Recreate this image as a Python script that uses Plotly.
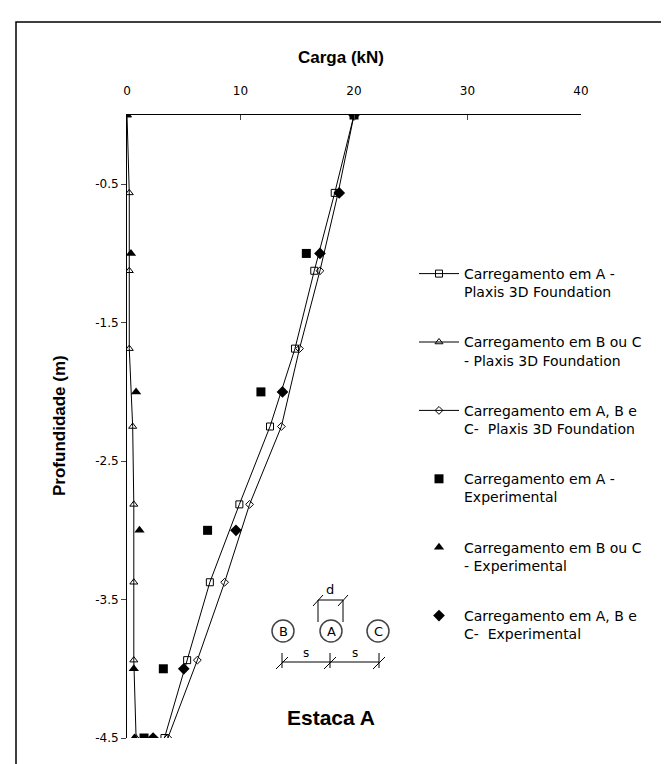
import plotly.graph_objects as go

# Profundidade (m) dos pontos Plaxis e experimentais
prof_plaxis = [0, -0.5625, -1.125, -1.6875, -2.25, -2.8125, -3.375, -3.9375, -4.5]
prof_exp = [0, -1, -2, -3, -4, -4.5]
prof_exp_abc = [0, -0.5625, -1, -2, -3, -4, -4.5]

# Carga (kN)
plaxis_a = [20.0, 18.3, 16.5, 14.8, 12.6, 9.9, 7.3, 5.3, 3.3]
plaxis_bc = [0.0, 0.2, 0.2, 0.2, 0.5, 0.6, 0.6, 0.6, 0.8]
plaxis_abc = [20.0, 18.6, 17.0, 15.2, 13.6, 10.8, 8.6, 6.2, 3.6]
exp_a = [20.0, 15.8, 11.8, 7.1, 3.2, 1.5]
exp_bc = [0.0, 0.35, 0.8, 1.1, 0.6, 0.65]
exp_abc = [20.0, 18.7, 17.0, 13.7, 9.6, 5.0, 2.3]

x_ticks = [0, 10, 20, 30, 40]
y_ticks = [-0.5, -1.5, -2.5, -3.5, -4.5]
y_tick_labels = ["-0.5", "-1.5", "-2.5", "-3.5", "-4.5"]

nomes = [
    "Carregamento em A -<br>Plaxis 3D Foundation",
    "Carregamento em B ou C<br>- Plaxis 3D Foundation",
    "Carregamento em A, B e<br>C-  Plaxis 3D Foundation",
    "Carregamento em A -<br>Experimental",
    "Carregamento em B ou C<br>- Experimental",
    "Carregamento em A, B e<br>C-  Experimental",
]

FONT = "DejaVu Sans, sans-serif"
BOLD = "Liberation Sans, Arial, sans-serif"
W, H = 669, 764
L, R, T, B = 119, 96, 107, 34

fig = go.Figure()
linha = dict(color="black", width=1)
fig.add_trace(go.Scatter(x=plaxis_a, y=prof_plaxis, mode="lines+markers", name=nomes[0],
                         line=linha, marker=dict(symbol="square-open", size=7, color="black")))
fig.add_trace(go.Scatter(x=plaxis_bc, y=prof_plaxis, mode="lines+markers", name=nomes[1],
                         line=linha, marker=dict(symbol="triangle-up-open", size=7, color="black")))
fig.add_trace(go.Scatter(x=plaxis_abc, y=prof_plaxis, mode="lines+markers", name=nomes[2],
                         line=linha, marker=dict(symbol="diamond-open", size=6, color="black")))
fig.add_trace(go.Scatter(x=exp_a, y=prof_exp, mode="markers", name=nomes[3],
                         marker=dict(symbol="square", size=9, color="black")))
fig.add_trace(go.Scatter(x=exp_bc, y=prof_exp, mode="markers", name=nomes[4],
                         marker=dict(symbol="triangle-up", size=9, color="black")))
fig.add_trace(go.Scatter(x=exp_abc, y=prof_exp_abc, mode="markers", name=nomes[5],
                         marker=dict(symbol="diamond", size=9, color="black")))
for i, tr in enumerate(fig.data):
    tr.legendgroup = f"g{i}"


def px(xp):
    return (xp - L) / (W - L - R)


def py(yp):
    return (H - B - yp) / (H - T - B)


shapes = [
    # moldura externa
    dict(type="rect", xref="paper", yref="paper", x0=px(8), x1=px(662), y0=py(757), y1=py(14),
         line=dict(color="black", width=1.5)),
]
# esquema das estacas
for cx in (275, 323, 370):
    shapes.append(dict(type="circle", xref="paper", yref="paper", x0=px(cx - 11), x1=px(cx + 11),
                       y0=py(634), y1=py(612), line=dict(color="#444444", width=1.5)))
seg = [((274, 654), (371, 654)), ((274, 645), (274, 660)), ((322, 645), (322, 660)),
       ((371, 645), (371, 660)), ((310, 592), (335, 592)), ((310, 592), (310, 614)),
       ((335, 592), (335, 614)),
       ((268, 661), (280, 649)), ((316, 661), (328, 649)), ((365, 661), (377, 649)),
       ((305, 598), (315, 587)), ((330, 598), (340, 587))]
for (xa, ya), (xb, yb) in seg:
    shapes.append(dict(type="line", xref="paper", yref="paper", x0=px(xa), y0=py(ya), x1=px(xb), y1=py(yb),
                       line=dict(color="black", width=1)))

anot = []
for txt, xp_, yp_, sz, bold, ang in [
        ("B", 275, 623, 13, False, 0), ("A", 323, 623, 13, False, 0), ("C", 370, 623, 13, False, 0),
        ("s", 298, 645, 12, False, 0), ("s", 347, 645, 12, False, 0), ("d", 322, 581, 13, False, 0),
        ("Estaca A", 323, 709, 21, True, 0),
        ("Carga (kN)", 333, 50, 17, True, 0),
        ("Profundidade (m)", 52, 418, 17, True, -90)]:
    anot.append(dict(text=f"<b>{txt}</b>" if bold else txt, xref="paper", yref="paper", x=px(xp_), y=py(yp_),
                     showarrow=False, xanchor="center", yanchor="middle", textangle=ang,
                     font=dict(family=BOLD if bold else FONT, size=sz, color="black")))

fig.update_layout(
    width=W, height=H,
    margin=dict(l=L, r=R, t=T, b=B),
    paper_bgcolor="white", plot_bgcolor="white",
    font=dict(family=FONT, size=12, color="black"),
    xaxis=dict(side="top", range=[0, 40], tickvals=x_ticks, ticks="inside", ticklen=5,
               showline=True, linecolor="black", linewidth=1, showgrid=False, zeroline=False,
               tickfont=dict(size=12), ticklabelstandoff=14),
    yaxis=dict(range=[-4.5, 0], tickvals=y_ticks, ticktext=y_tick_labels, ticks="outside", ticklen=5,
               showline=True, linecolor="black", linewidth=1, showgrid=False, zeroline=False,
               tickfont=dict(size=12)),
    legend=dict(x=px(406), y=py(250), xanchor="left", yanchor="top", font=dict(size=14),
                bgcolor="rgba(0,0,0,0)", itemwidth=40, valign="top", tracegroupgap=29,
                traceorder="grouped"),
    shapes=shapes,
    annotations=anot,
)

fig.write_html("out.html")
